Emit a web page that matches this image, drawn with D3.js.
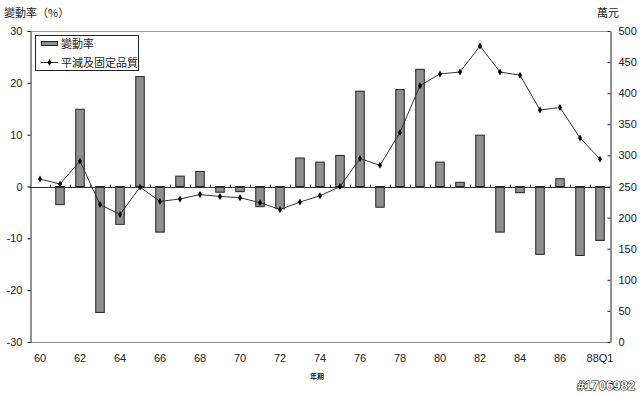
<!DOCTYPE html>
<html><head><meta charset="utf-8">
<script src="https://cdn.jsdelivr.net/npm/d3@7/dist/d3.min.js"></script>
<style>body{margin:0;background:#fff}svg{display:block}</style>
</head><body><svg id="c" width="640" height="395"></svg>
<script>
const categories = ["60","61","62","63","64","65","66","67","68","69","70","71","72","73","74","75","76","77","78","79","80","81","82","83","84","85","86","87","88Q1"];
const tickLabels = ["60","62","64","66","68","70","72","74","76","78","80","82","84","86","88Q1"];
const changeRate = [null,-3.5,14.9,-24.3,-7.3,21.2,-8.8,2.0,2.9,-1.1,-1.0,-3.9,-4.3,5.5,4.7,6.0,18.4,-4.0,18.7,22.6,4.7,0.8,9.9,-8.8,-1.2,-13.1,1.5,-13.3,-10.4];
const deflated = [262,254,291,221,205,249,226,230,237,234,232,224,213,225,235,250,295,284,337,412,431,434,476,434,429,373,377,328,294];
const leftTicks = [-30,-20,-10,0,10,20,30];
const rightTicks = [0,50,100,150,200,250,300,350,400,450,500];

const svg = d3.select("#c");
const L = 30, R = 610, T = 31, B = 342;
const x = d3.scaleBand().domain(categories).range([L, R]);
const yL = d3.scaleLinear().domain([-30, 30]).range([B, T]);
const yR = d3.scaleLinear().domain([0, 500]).range([B, T]);
const font = "'Liberation Sans', Arial, sans-serif";
const cjk = "'Noto Sans CJK TC', sans-serif";

// plot border top/bottom
svg.append("line").attr("x1",L).attr("x2",R).attr("y1",T+0.5).attr("y2",T+0.5).attr("stroke","#999");
svg.append("line").attr("x1",L).attr("x2",R).attr("y1",B+0.5).attr("y2",B+0.5).attr("stroke","#888");

// bars
const bw = 8.5;
svg.append("g").selectAll("rect").data(categories.map((c,i)=>({c,v:changeRate[i]})).filter(d=>d.v!==null))
  .join("rect")
  .attr("x", d => x(d.c) + x.bandwidth()/2 - bw/2)
  .attr("width", bw)
  .attr("y", d => Math.min(yL(d.v), yL(0)))
  .attr("height", d => Math.abs(yL(d.v) - yL(0)))
  .attr("fill", "#8f8f8f").attr("stroke", "#222").attr("stroke-width", 1);

// zero axis
const zx = svg.append("g").attr("transform", `translate(0,${Math.round(yL(0))+0.5})`);
zx.append("line").attr("x1",L).attr("x2",R).attr("stroke","#333");
zx.selectAll(".t").data(categories.slice(1)).join("line")
  .attr("x1", d => Math.round(x(d))+0.5).attr("x2", d => Math.round(x(d))+0.5)
  .attr("y1", -3).attr("y2", 0).attr("stroke","#333");

// left axis
const ga = svg.append("g").attr("transform", `translate(${L+0.5},0)`)
  .call(d3.axisLeft(yL).tickValues(leftTicks).tickFormat(d => String(d)).tickSize(3).tickSizeOuter(0));
ga.select(".domain").attr("stroke","#222");
ga.selectAll("text").attr("font-family",font).attr("font-size",11).attr("fill","#222").attr("x",-8);
// right axis
const gr = svg.append("g").attr("transform", `translate(${R+0.5},0)`)
  .call(d3.axisRight(yR).tickValues(rightTicks).tickFormat(d => String(d)).tickSize(0).tickSizeOuter(0));
gr.select(".domain").attr("stroke","#222");
gr.selectAll(".tick line").attr("x1",-3).attr("x2",0).attr("stroke","#222");
gr.selectAll("text").attr("font-family",font).attr("font-size",11).attr("fill","#222").attr("x",8);

// x labels
svg.append("g").selectAll("text").data(tickLabels).join("text")
  .attr("x", d => x(d) + x.bandwidth()/2).attr("y", 362)
  .attr("text-anchor","middle").attr("font-family",font).attr("font-size",11).attr("fill","#222")
  .text(d => d);

// line
const line = d3.line().x((d,i)=>x(categories[i])+x.bandwidth()/2).y(d=>yR(d));
svg.append("path").datum(deflated).attr("d", line).attr("fill","none").attr("stroke","#333").attr("stroke-width",1);
svg.append("g").selectAll("path").data(deflated).join("path")
  .attr("transform",(d,i)=>`translate(${x(categories[i])+x.bandwidth()/2},${yR(d)})`)
  .attr("d", d3.symbol(d3.symbolDiamond, 14)).attr("fill","#000");

// titles
svg.append("text").attr("x",4).attr("y",17).attr("font-family",cjk).attr("font-size",11).attr("fill","#222").text("變動率（%）");
svg.append("text").attr("x",597).attr("y",17).attr("font-family",cjk).attr("font-size",11).attr("fill","#222").text("萬元");
svg.append("text").attr("x",310).attr("y",379).attr("font-family",cjk).attr("font-size",7).attr("font-weight","bold").attr("fill","#222").text("年期");
svg.append("text").attr("x",635).attr("y",390).attr("text-anchor","end").attr("font-family",font).attr("font-size",13).attr("font-weight","bold")
  .attr("fill","#fff").attr("stroke","#222").attr("stroke-width",1.2).attr("paint-order","stroke").text("#1706982");

// legend
const lg = svg.append("g");
lg.append("rect").attr("x",35.5).attr("y",35.5).attr("width",103).attr("height",35).attr("fill","#fff").attr("stroke","#222");
lg.append("rect").attr("x",41.5).attr("y",41.5).attr("width",16).attr("height",4).attr("fill","#8f8f8f").attr("stroke","#222");
lg.append("text").attr("x",61).attr("y",48).attr("font-family",cjk).attr("font-size",11).attr("fill","#222").text("變動率");
lg.append("line").attr("x1",41).attr("x2",58).attr("y1",62.5).attr("y2",62.5).attr("stroke","#333");
lg.append("path").attr("transform","translate(49.5,62.5)").attr("d",d3.symbol(d3.symbolDiamond,14)).attr("fill","#000");
lg.append("text").attr("x",61).attr("y",67).attr("font-family",cjk).attr("font-size",11).attr("fill","#222").text("平減及固定品質");
</script></body></html>
